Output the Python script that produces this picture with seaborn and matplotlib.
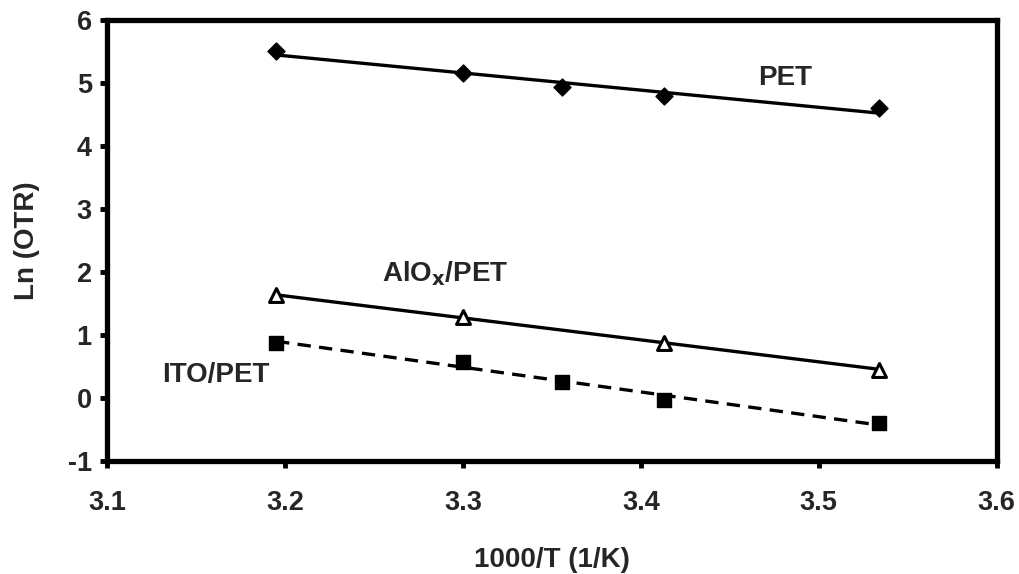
import matplotlib
matplotlib.use("Agg")
import matplotlib.pyplot as plt
import seaborn as sns
import numpy as np
import pandas as pd

# Data
x_pet = [3.195, 3.300, 3.356, 3.413, 3.534]
y_pet = [5.51, 5.16, 4.93, 4.79, 4.60]
x_alox = [3.195, 3.300, 3.413, 3.534]
y_alox = [1.63, 1.28, 0.88, 0.45]
x_ito = [3.195, 3.300, 3.356, 3.413, 3.534]
y_ito = [0.88, 0.57, 0.25, -0.03, -0.40]

x_ticks = [3.1, 3.2, 3.3, 3.4, 3.5, 3.6]
y_ticks = [-1, 0, 1, 2, 3, 4, 5, 6]

sns.set_theme(style="white")
plt.rcParams['font.family'] = ['Liberation Sans', 'DejaVu Sans']
plt.rcParams['font.weight'] = 'bold'

fig = plt.figure(figsize=(10.2, 5.74), dpi=100)
ax = fig.add_axes([0.105, 0.197, 0.872, 0.768])

df_pet = pd.DataFrame({"x": x_pet, "y": y_pet})
df_alox = pd.DataFrame({"x": x_alox, "y": y_alox})
df_ito = pd.DataFrame({"x": x_ito, "y": y_ito})

sns.regplot(data=df_pet, x="x", y="y", ax=ax, ci=None, truncate=True,
            marker="D", scatter_kws=dict(s=75, color="black", alpha=1, zorder=3),
            line_kws=dict(color="black", lw=2.4))
sns.regplot(data=df_alox, x="x", y="y", ax=ax, ci=None, truncate=True,
            marker="^", scatter_kws=dict(s=100, facecolors="white", edgecolors="black",
                                         linewidths=2.2, alpha=1, zorder=3),
            line_kws=dict(color="black", lw=2.4))
sns.regplot(data=df_ito, x="x", y="y", ax=ax, ci=None, truncate=True,
            marker="s", scatter_kws=dict(s=100, color="black", alpha=1, zorder=3),
            line_kws=dict(color="black", lw=2.4, ls=(0, (4, 2.5))))

ax.set_xlim(3.1, 3.6)
ax.set_ylim(-1, 6)
ax.set_xticks(x_ticks)
ax.set_yticks(y_ticks)
ax.set_xticklabels([f"{v:.1f}" for v in x_ticks])
ax.set_yticklabels([str(v) for v in y_ticks])

for s in ax.spines.values():
    s.set_linewidth(3.8)
    s.set_color("black")
    s.set_visible(True)
ax.tick_params(axis="both", which="major", direction="out", length=5, width=3.5,
               labelsize=19.5, color="black", left=True, bottom=True)
ax.tick_params(axis="x", pad=16)
ax.tick_params(axis="y", pad=6)
for lab in ax.get_xticklabels() + ax.get_yticklabels():
    lab.set_fontweight("bold")

ax.set_xlabel("1000/T (1/K)", fontsize=20, fontweight="bold", labelpad=22)
ax.set_ylabel("Ln (OTR)", fontsize=20, fontweight="bold", labelpad=20)

ax.text(3.481, 5.08, "PET", fontsize=20, fontweight="bold", ha="center", va="center")
ax.text(3.29, 1.98, "AlO$_\\mathbf{x}$/PET", fontsize=20, fontweight="bold", ha="center", va="center")
ax.text(3.161, 0.36, "ITO/PET", fontsize=20, fontweight="bold", ha="center", va="center")

fig.savefig("out.png", dpi=100, facecolor="white")
